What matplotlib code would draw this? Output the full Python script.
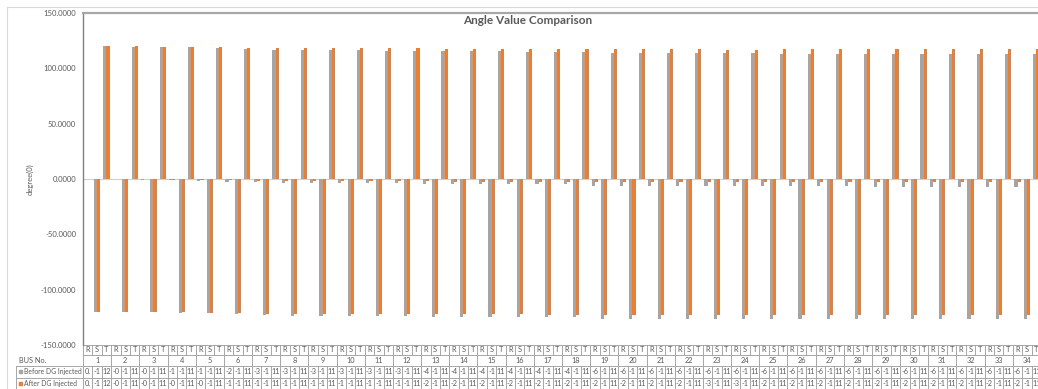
import numpy as np
import matplotlib
matplotlib.use("Agg")
import matplotlib.pyplot as plt
from matplotlib import transforms
from matplotlib.lines import Line2D
from matplotlib.patches import Rectangle

plt.rcParams['font.family'] = ['Lato', 'DejaVu Sans']

buses = [str(b) for b in range(1, 35)]
phases = ['R', 'S', 'T']

# angle (degrees) per bus, before DG injection
r_before = [0.0, -0.3, -0.6, -1.1, -1.4, -2.4, -3.1, -3.4, -3.6, -3.8, -3.9, -3.9,
            -4.3, -4.5, -4.6, -4.8, -4.9, -4.9, -6.1, -6.2, -6.3, -6.3, -6.4, -6.5,
            -6.6, -6.6, -6.7, -6.7, -6.8, -6.8, -6.8, -6.9, -6.9, -6.9]
s_before = [-120.0, -120.3, -120.6, -121.1, -121.4, -122.4, -123.1, -123.4, -123.6,
            -123.8, -123.9, -123.9, -124.3, -124.5, -124.6, -124.8, -124.9, -124.9,
            -126.1, -126.2, -126.3, -126.3, -126.4, -126.5, -126.6, -126.6, -126.7,
            -126.7, -126.8, -126.8, -126.8, -126.9, -126.9, -126.9]
t_before = [120.0, 119.7, 119.4, 118.9, 118.6, 117.6, 116.9, 116.6, 116.4, 116.2,
            116.1, 116.1, 115.7, 115.5, 115.4, 115.2, 115.1, 115.1, 113.9, 113.8,
            113.7, 113.7, 113.6, 113.5, 113.4, 113.4, 113.3, 113.3, 113.2, 113.2,
            113.2, 113.1, 113.1, 113.1]

# angle (degrees) per bus, after DG injection
r_after = [0.0, -0.2, -0.4, -0.6, -0.8, -1.3, -1.6, -1.7, -1.8, -1.9, -1.9, -1.9,
           -2.2, -2.3, -2.4, -2.4, -2.5, -2.5, -2.7, -2.8, -2.8, -2.9, -3.1, -3.1,
           -2.9, -2.9, -2.9, -2.9, -2.9, -2.9, -2.9, -2.9, -2.9, -2.9]
s_after = [-120.0, -120.2, -120.4, -120.6, -120.8, -121.3, -121.6, -121.7, -121.8,
           -121.9, -121.9, -121.9, -122.2, -122.3, -122.4, -122.4, -122.5, -122.5,
           -122.7, -122.8, -122.8, -122.9, -123.1, -123.1, -122.9, -122.9, -122.9,
           -122.9, -122.9, -122.9, -122.9, -122.9, -122.9, -122.9]
t_after = [120.0, 119.8, 119.6, 119.4, 119.2, 118.7, 118.4, 118.3, 118.2, 118.1,
           118.1, 118.1, 117.8, 117.7, 117.6, 117.6, 117.5, 117.5, 117.3, 117.2,
           117.2, 117.1, 116.9, 116.9, 117.1, 117.1, 117.1, 117.1, 117.1, 117.1,
           117.1, 117.1, 117.1, 117.1]

GRAY = '#A5A5A5'
ORANGE = '#ED7D31'
TXT = '#595959'

W, H = 1038, 389
def fx(p):
    return p / W
def fy(p):
    return 1 - p / H

before = np.column_stack([r_before, s_before, t_before]).ravel()
after = np.column_stack([r_after, s_after, t_after]).ravel()
idx = np.arange(len(before))

fig = plt.figure(figsize=(W / 100, H / 100), dpi=100)
ax = fig.add_axes([fx(83), fy(345), (1041 - 83) / W, 332 / H])

bw = 0.33
ax.bar(idx - bw / 2, before, width=bw, color=GRAY)
ax.bar(idx + bw / 2, after, width=bw, color=ORANGE)
ax.axhline(0, color='#D0D0D0', lw=0.8, zorder=0)

ax.set_xlim(-0.5, len(idx) - 0.5)
ax.set_ylim(-150, 150)
yt = np.arange(-150, 151, 50)
ax.set_yticks(yt)
ax.set_yticklabels([f"{v:.4f}" for v in yt])
ax.set_xticks([])
ax.tick_params(axis='y', length=0, labelsize=5.5, colors=TXT, pad=5)
for s in ['right', 'bottom']:
    ax.spines[s].set_visible(False)
ax.spines['left'].set_color('#808080')
ax.spines['left'].set_linewidth(1.0)
ax.spines['top'].set_color('#A6A6A6')
ax.spines['top'].set_linewidth(1.6)

fig.text(fx(30), fy(179), 'degree(0)', rotation=90, ha='center', va='center',
         fontsize=5.5, color=TXT)
fig.text(fx(528), fy(21), 'Angle Value Comparison', ha='center', va='center',
         fontsize=8.5, weight='bold', color=TXT)

# outer chart-area frame
fig.add_artist(Line2D([fx(7), 1], [fy(7), fy(7)], color='#D9D9D9', lw=0.8))
fig.add_artist(Line2D([fx(7), fx(7)], [fy(7), 0], color='#D9D9D9', lw=0.8))

# data table under the axis
tr = transforms.blended_transform_factory(ax.transData, fig.transFigure)
lk = dict(color='#A6A6A6', lw=0.7, clip_on=False)
n = len(idx)
for y in (345, 355):
    ax.add_line(Line2D([-0.5, n - 0.5], [fy(y), fy(y)], transform=tr, **lk))
for y in (366, 377.5, 389):
    fig.add_artist(Line2D([fx(16), 1], [fy(y), fy(y)], **lk))
fig.add_artist(Line2D([fx(16), fx(16)], [fy(366), fy(389)], **lk))

for i in range(n + 1):
    x = i - 0.5
    ax.add_line(Line2D([x, x], [fy(345), fy(355)], transform=tr, **lk))
    ax.add_line(Line2D([x, x], [fy(366), fy(389)], transform=tr, **lk))
    if i % 3 == 0:
        ax.add_line(Line2D([x, x], [fy(355), fy(366)], transform=tr, **lk))

fs = 5.3
for i in range(n):
    ax.text(i, fy(350), phases[i % 3], transform=tr, ha='center', va='center',
            fontsize=fs, color=TXT, clip_on=False)
    ax.text(i, fy(371.8), f"{before[i]:.4f}"[:2], transform=tr, ha='center',
            va='center', fontsize=fs, color=TXT, clip_on=False)
    ax.text(i, fy(383.3), f"{after[i]:.4f}"[:2], transform=tr, ha='center',
            va='center', fontsize=fs, color=TXT, clip_on=False)
for b, name in enumerate(buses):
    ax.text(3 * b + 1, fy(360.5), name, transform=tr, ha='center', va='center',
            fontsize=fs, color=TXT, clip_on=False)

fig.text(fx(19), fy(360.5), 'BUS No.', ha='left', va='center', fontsize=fs, color=TXT)
for y, lab, col in [(371.8, 'Before DG Injected', GRAY), (383.3, 'After DG Injected', ORANGE)]:
    fig.add_artist(Rectangle((fx(18.5), fy(y) - 1.6 / H), 3.2 / W, 3.2 / H,
                             transform=fig.transFigure, color=col))
    fig.text(fx(23.5), fy(y), lab, ha='left', va='center', fontsize=4.9, color=TXT)

fig.savefig('out.png', dpi=100)
